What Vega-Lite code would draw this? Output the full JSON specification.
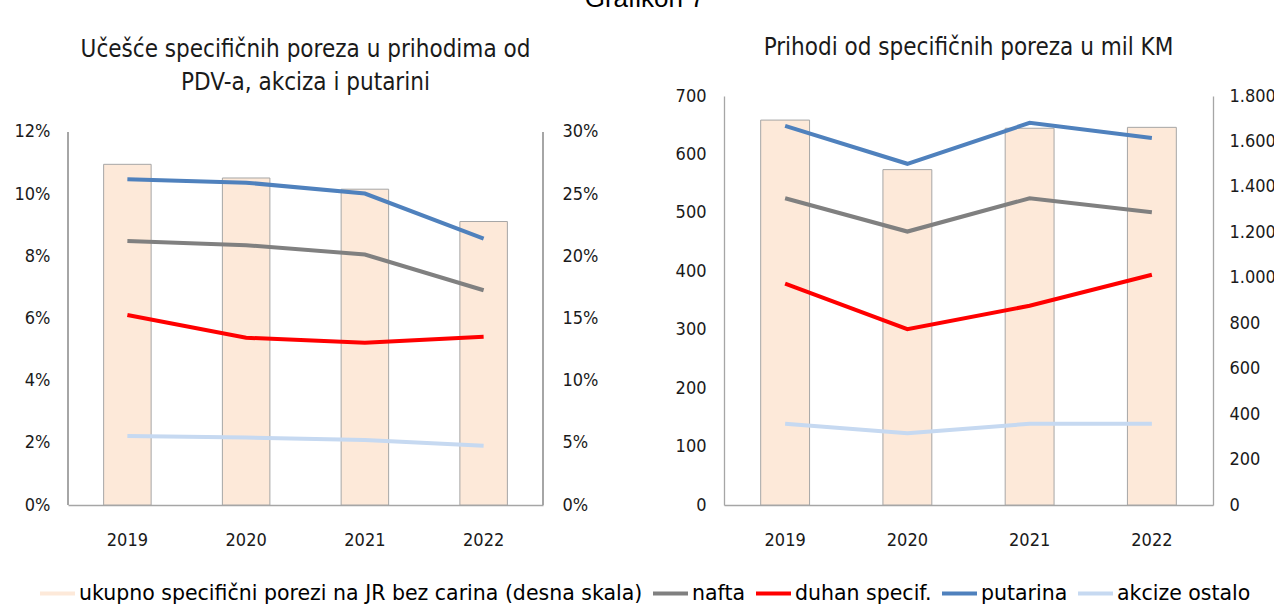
{
  "$schema": "https://vega.github.io/schema/vega-lite/v6.json",
  "padding": {"left": 14, "top": -14, "right": 0, "bottom": 0},
  "title": {"text": "Grafikon 7", "font": "Liberation Sans", "fontSize": 26, "fontWeight": "normal", "color": "#000000", "anchor": "middle", "offset": 24},
  "spacing": 61,
  "datasets": {
    "udio": [
      {"year": "2019", "series": "ukupno specifični porezi na JR bez carina (desna skala)", "value": 27.4},
      {"year": "2020", "series": "ukupno specifični porezi na JR bez carina (desna skala)", "value": 26.3},
      {"year": "2021", "series": "ukupno specifični porezi na JR bez carina (desna skala)", "value": 25.4},
      {"year": "2022", "series": "ukupno specifični porezi na JR bez carina (desna skala)", "value": 22.8},
      {"year": "2019", "series": "nafta", "value": 8.49},
      {"year": "2020", "series": "nafta", "value": 8.36},
      {"year": "2021", "series": "nafta", "value": 8.06},
      {"year": "2022", "series": "nafta", "value": 6.91},
      {"year": "2019", "series": "duhan specif.", "value": 6.11},
      {"year": "2020", "series": "duhan specif.", "value": 5.38},
      {"year": "2021", "series": "duhan specif.", "value": 5.22},
      {"year": "2022", "series": "duhan specif.", "value": 5.41},
      {"year": "2019", "series": "putarina", "value": 10.48},
      {"year": "2020", "series": "putarina", "value": 10.37},
      {"year": "2021", "series": "putarina", "value": 10.02},
      {"year": "2022", "series": "putarina", "value": 8.57},
      {"year": "2019", "series": "akcize ostalo", "value": 2.22},
      {"year": "2020", "series": "akcize ostalo", "value": 2.17},
      {"year": "2021", "series": "akcize ostalo", "value": 2.09},
      {"year": "2022", "series": "akcize ostalo", "value": 1.91}
    ],
    "prihodi": [
      {"year": "2019", "series": "ukupno specifični porezi na JR bez carina (desna skala)", "value": 1694},
      {"year": "2020", "series": "ukupno specifični porezi na JR bez carina (desna skala)", "value": 1476},
      {"year": "2021", "series": "ukupno specifični porezi na JR bez carina (desna skala)", "value": 1658},
      {"year": "2022", "series": "ukupno specifični porezi na JR bez carina (desna skala)", "value": 1662},
      {"year": "2019", "series": "nafta", "value": 525},
      {"year": "2020", "series": "nafta", "value": 468},
      {"year": "2021", "series": "nafta", "value": 525},
      {"year": "2022", "series": "nafta", "value": 501},
      {"year": "2019", "series": "duhan specif.", "value": 379},
      {"year": "2020", "series": "duhan specif.", "value": 301},
      {"year": "2021", "series": "duhan specif.", "value": 341},
      {"year": "2022", "series": "duhan specif.", "value": 394},
      {"year": "2019", "series": "putarina", "value": 649},
      {"year": "2020", "series": "putarina", "value": 584},
      {"year": "2021", "series": "putarina", "value": 654},
      {"year": "2022", "series": "putarina", "value": 628},
      {"year": "2019", "series": "akcize ostalo", "value": 139},
      {"year": "2020", "series": "akcize ostalo", "value": 123},
      {"year": "2021", "series": "akcize ostalo", "value": 139},
      {"year": "2022", "series": "akcize ostalo", "value": 139}
    ]
  },
  "hconcat": [
    {
      "width": 475,
      "height": 409,
      "title": {"text": ["Učešće specifičnih poreza u prihodima od", "PDV-a, akciza i putarini"], "offset": 1},
      "data": {"name": "udio"},
      "encoding": {
        "x": {"field": "year", "type": "ordinal", "scale": {"paddingInner": 0.6, "paddingOuter": 0.3},
              "axis": {"title": null, "labelAngle": 0, "labelPadding": 26}}
      },
      "layer": [
        {
          "transform": [{"filter": "datum.series === 'ukupno specifični porezi na JR bez carina (desna skala)'"}],
          "mark": {"type": "bar", "stroke": "#a6a6a6", "strokeWidth": 1},
          "encoding": {
            "y": {"field": "value", "type": "quantitative", "scale": {"domain": [0, 32.895], "nice": false},
                  "axis": {"title": null, "orient": "right", "domain": false, "values": [0, 5, 10, 15, 20, 25, 30], "labelExpr": "datum.value + '%'", "labelPadding": 19, "minExtent": 60, "maxExtent": 60}},
            "color": {"field": "series", "type": "nominal",
                      "scale": {"domain": ["ukupno specifični porezi na JR bez carina (desna skala)", "nafta", "duhan specif.", "putarina", "akcize ostalo"],
                                "range": ["#fde9d9", "#808080", "#ff0000", "#4f81bd", "#c6d9f1"]},
                      "legend": {
                        "orient": "bottom", "direction": "horizontal", "title": null, "offset": 25,
                        "labelFont": "DejaVu Sans", "labelFontSize": 20.5, "labelColor": "#000000", "labelLimit": 800,
                        "labelOffset": 2, "columnPadding": 2, "symbolSize": 1225, "symbolType": "stroke", "symbolStrokeWidth": 4, "symbolOpacity": 1,
                        "encode": {
                          "symbols": {
                            "shape": {"value": {"expr": "datum.value === 'ukupno specifični porezi na JR bez carina (desna skala)' ? 'M-0.143,-0.371H1V0.371H-0.143Z' : 'stroke'"}},
                            "fill": {"value": {"expr": "datum.value === 'ukupno specifični porezi na JR bez carina (desna skala)' ? '#fde9d9' : 'transparent'"}},
                            "stroke": {"value": {"expr": "datum.value === 'ukupno specifični porezi na JR bez carina (desna skala)' ? '#a0a0a0' : datum.value === 'nafta' ? '#808080' : datum.value === 'duhan specif.' ? '#ff0000' : datum.value === 'putarina' ? '#4f81bd' : '#c6d9f1'"}},
                            "strokeWidth": {"value": {"expr": "datum.value === 'ukupno specifični porezi na JR bez carina (desna skala)' ? 1.3 : 4"}}
                          }
                        }
                      }}
          }
        },
        {
          "transform": [{"filter": "datum.series !== 'ukupno specifični porezi na JR bez carina (desna skala)'"}],
          "mark": {"type": "line", "strokeWidth": 4},
          "encoding": {
            "y": {"field": "value", "type": "quantitative", "scale": {"domain": [0, 13.158], "nice": false},
                  "axis": {"title": null, "orient": "left", "domain": false, "values": [0, 2, 4, 6, 8, 10, 12], "labelExpr": "datum.value + '%'", "labelPadding": 18, "minExtent": 52, "maxExtent": 52}},
            "color": {"field": "series", "type": "nominal",
                      "scale": {"domain": ["ukupno specifični porezi na JR bez carina (desna skala)", "nafta", "duhan specif.", "putarina", "akcize ostalo"],
                                "range": ["#fde9d9", "#808080", "#ff0000", "#4f81bd", "#c6d9f1"]}}
          }
        },
        {
          "mark": {"type": "rule", "color": "#a6a6a6", "strokeWidth": 1.3},
          "encoding": {
            "x": {"datum": "2019", "type": "ordinal", "bandPosition": -0.75},
            "y": {"datum": 0, "type": "quantitative", "scale": {"domain": [0, 13.158], "nice": false}, "axis": null},
            "y2": {"datum": 12}
          }
        },
        {
          "mark": {"type": "rule", "color": "#a6a6a6", "strokeWidth": 1.3},
          "encoding": {
            "x": {"datum": "2022", "type": "ordinal", "bandPosition": 1.75},
            "y": {"datum": 0, "type": "quantitative", "scale": {"domain": [0, 13.158], "nice": false}, "axis": null},
            "y2": {"datum": 12}
          }
        }
      ],
      "resolve": {"scale": {"y": "independent"}}
    },
    {
      "width": 489,
      "height": 409,
      "title": {"text": "Prihodi od specifičnih poreza u mil KM", "offset": 27},
      "data": {"name": "prihodi"},
      "encoding": {
        "x": {"field": "year", "type": "ordinal", "scale": {"paddingInner": 0.6, "paddingOuter": 0.3},
              "axis": {"title": null, "labelAngle": 0, "labelPadding": 26}}
      },
      "layer": [
        {
          "transform": [{"filter": "datum.series === 'ukupno specifični porezi na JR bez carina (desna skala)'"}],
          "mark": {"type": "bar", "stroke": "#a6a6a6", "strokeWidth": 1},
          "encoding": {
            "y": {"field": "value", "type": "quantitative", "scale": {"domain": [0, 1800], "nice": false},
                  "axis": {"title": null, "orient": "right", "values": [0, 200, 400, 600, 800, 1000, 1200, 1400, 1600, 1800], "labelExpr": "replace(format(datum.value, ','), ',', '.')", "labelPadding": 16, "minExtent": 62, "maxExtent": 62}},
            "color": {"field": "series", "type": "nominal",
                      "scale": {"domain": ["ukupno specifični porezi na JR bez carina (desna skala)", "nafta", "duhan specif.", "putarina", "akcize ostalo"],
                                "range": ["#fde9d9", "#808080", "#ff0000", "#4f81bd", "#c6d9f1"]}}
          }
        },
        {
          "transform": [{"filter": "datum.series !== 'ukupno specifični porezi na JR bez carina (desna skala)'"}],
          "mark": {"type": "line", "strokeWidth": 4},
          "encoding": {
            "y": {"field": "value", "type": "quantitative", "scale": {"domain": [0, 700], "nice": false},
                  "axis": {"title": null, "orient": "left", "values": [0, 100, 200, 300, 400, 500, 600, 700], "labelPadding": 18, "minExtent": 60, "maxExtent": 60}},
            "color": {"field": "series", "type": "nominal",
                      "scale": {"domain": ["ukupno specifični porezi na JR bez carina (desna skala)", "nafta", "duhan specif.", "putarina", "akcize ostalo"],
                                "range": ["#fde9d9", "#808080", "#ff0000", "#4f81bd", "#c6d9f1"]}}
          }
        }
      ],
      "resolve": {"scale": {"y": "independent"}}
    }
  ],
  "resolve": {"scale": {"color": "shared"}, "legend": {"color": "shared"}},
  "config": {
    "background": "#ffffff",
    "view": {"stroke": null},
    "axis": {"domainColor": "#a6a6a6", "domainWidth": 1.3, "ticks": false, "grid": false,
             "labelFont": "DejaVu Sans Condensed", "labelFontSize": 18, "labelColor": "#1a1a1a"},
    "title": {"font": "DejaVu Sans Condensed", "fontSize": 24, "fontWeight": "normal", "color": "#1a1a1a", "lineHeight": 33, "anchor": "middle"},
    "legend": {
      "orient": "bottom", "direction": "horizontal", "title": null, "offset": 25,
      "labelFont": "DejaVu Sans", "labelFontSize": 20.5, "labelColor": "#000000", "labelLimit": 800,
      "labelOffset": 2, "columnPadding": 2, "symbolSize": 1225, "symbolType": "stroke", "symbolStrokeWidth": 4,
      "symbolOpacity": 1,
      "layout": {"bottom": {"anchor": "middle"}}
    }
  }
}
